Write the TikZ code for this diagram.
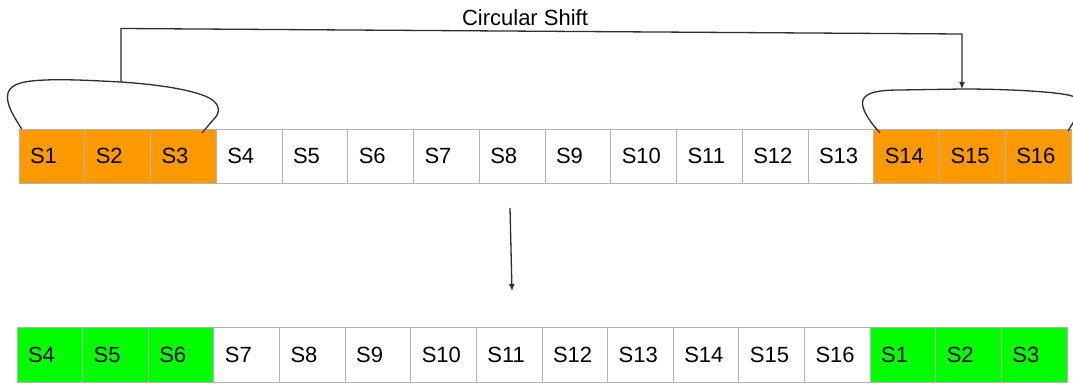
\documentclass[tikz,border=0pt]{standalone}
\usepackage{fontspec}
\setmainfont{Liberation Sans}
\usetikzlibrary{arrows.meta}
\definecolor{slotorange}{HTML}{FF9900}
\definecolor{slotgreen}{HTML}{00FF00}
\definecolor{gridgray}{HTML}{B4B4B4}
\definecolor{inkgray}{HTML}{2E2E2E}
\tikzset{
  slot/.style={draw=gridgray, line width=1pt, rectangle, minimum height=#1,
    inner xsep=11pt, inner ysep=0pt, align=left,
    font=\fontsize{22}{22}\selectfont, anchor=center},
  topslot/.style={slot=54pt, text width=43.75pt},
  botslot/.style={slot=55pt, text width=43.625pt},
  moved/.style={fill=slotorange},
  placed/.style={fill=slotgreen},
  link/.style={draw=inkgray, line width=1.3pt},
  tip/.style={-{Latex[length=7pt,width=6pt]}},
}
\begin{document}
\begin{tikzpicture}[x=1pt,y=-1pt]
\useasboundingbox (0,0) rectangle (1073,383);
\fill[white] (0,0) rectangle (1073,383);

% array before the shift
\foreach \i in {1,...,16}{
  \ifnum\i<4 \def\extra{moved}\else\ifnum\i>13 \def\extra{moved}\else\def\extra{}\fi\fi
  \node[topslot,\extra] (t\i) at ({19+65.75*(\i-0.5)},156) {S\i};
}

% array after the shift
\foreach \i/\lab in {1/4,2/5,3/6,4/7,5/8,6/9,7/10,8/11,9/12,10/13,11/14,12/15,13/16,14/1,15/2,16/3}{
  \ifnum\i<4 \def\extra{placed}\else\ifnum\i>13 \def\extra{placed}\else\def\extra{}\fi\fi
  \node[botslot,\extra] (b\i) at ({17+65.625*(\i-0.5)},354.5) {S\lab};
}

% bracket over S1--S3
\coordinate (ltop) at (121,82);
\draw[link] (21.7,129) .. controls (15,118) and (5,104) .. (8,93)
  .. controls (11,84) and (22,81) .. (45,80)
  .. controls (70,79) and (100,81) .. (ltop)
  .. controls (150,84) and (185,88) .. (205,96)
  .. controls (220,102) and (222,112) .. (213,120)
  -- (202,133);

% bracket over S14--S16
\coordinate (rtop) at (962,89);
\draw[link] (880,133) .. controls (870,122) and (860,108) .. (863,100)
  .. controls (866,92) and (880,90) .. (900,90)
  -- (rtop)
  .. controls (1010,89) and (1060,92) .. (1072,96)
  .. controls (1080,99) and (1080,112) .. (1076,118)
  -- (1068,131);

% circular shift connector
\coordinate (lcorner) at (121,28.5);
\coordinate (rcorner) at (962,34);
\draw[link,tip] (ltop) -- (lcorner) -- (rcorner) -- (rtop);
\node[font=\fontsize{22}{22}\selectfont, inner sep=0pt] (title) at (525,18) {Circular Shift};

% result arrow
\coordinate (from) at (510,208);
\coordinate (to) at (512,291);
\draw[link,tip] (from) -- (to);
\end{tikzpicture}
\end{document}
